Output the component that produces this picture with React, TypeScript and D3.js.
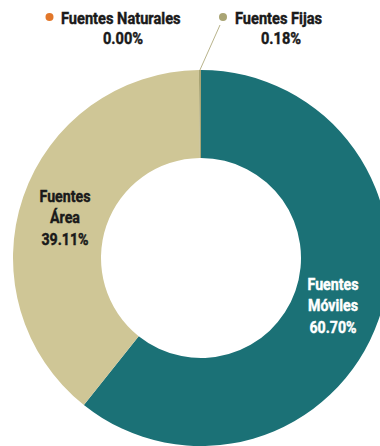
import React from "react";
import * as d3 from "d3";

// Emission share by source type (%)
const categories = ["Fuentes Móviles", "Fuentes Área", "Fuentes Fijas", "Fuentes Naturales"];
const shares = [60.70, 39.11, 0.18, 0.0];
const colors = ["#1b7176", "#cfc696", "#a9a474", "#e2772a"];
const labelLines = [["Fuentes", "Móviles", "60.70%"], ["Fuentes", "Área", "39.11%"]];
const labelColors = ["#ffffff", "#1a1a1a"];

const W = 380;
const H = 446;
const cx = 201;
const cy = 258;
const outerR = 188;
const innerR = 100;
const FONT = "Roboto, 'Noto Sans', sans-serif";
const SQUEEZE = 0.86; // condensed look for the heavy labels

export default function App() {
  const pie = d3.pie<number>().sort(null).value((d) => d)(shares);
  const arc = d3.arc<d3.PieArcDatum<number>>().innerRadius(innerR).outerRadius(outerR);

  // inner label anchors (centred positions inside the ring)
  const labelPos: [number, number][] = [
    [333, 290],
    [65, 202],
  ];

  // leader line from the thin "Fijas" slice up to its legend entry
  const fijas = pie[2];
  const midA = (fijas.startAngle + fijas.endAngle) / 2;
  const lx0 = cx + Math.sin(midA) * outerR;
  const ly0 = cy - Math.cos(midA) * outerR;

  const legend = [
    { i: 3, dotX: 49.5, textX: 61, valX: 123, value: "0.00%" },
    { i: 2, dotX: 223, textX: 235, valX: 281, value: "0.18%" },
  ];

  return (
    <svg width={W} height={H} style={{ position: "absolute", left: 0, top: 0 }}>
      <rect width={W} height={H} fill="#ffffff" />
      <g transform={`translate(${cx},${cy})`}>
        {pie.map((p, i) => (
          <path key={categories[i]} d={arc(p) || ""} fill={colors[i]} />
        ))}
      </g>
      <line x1={lx0} y1={ly0} x2={220} y2={25} stroke="#b9b48c" strokeWidth={1} />
      {legend.map((l) => (
        <g key={categories[l.i]}>
          <circle cx={l.dotX} cy={17} r={4} fill={colors[l.i]} />
          <g transform={`translate(${l.textX},24) scale(${SQUEEZE},1)`}>
            <text fontFamily={FONT} fontWeight="bold" fontSize={17} fill="#1a1a1a" stroke="#1a1a1a" strokeWidth={0.45}>
              {categories[l.i]}
            </text>
          </g>
          <g transform={`translate(${l.valX},44) scale(${SQUEEZE},1)`}>
            <text textAnchor="middle" fontFamily={FONT} fontWeight="bold" fontSize={17} fill="#1a1a1a" stroke="#1a1a1a" strokeWidth={0.45}>
              {l.value}
            </text>
          </g>
        </g>
      ))}
      {labelLines.map((lines, i) => (
        <g key={i} transform={`translate(${labelPos[i][0]},${labelPos[i][1]}) scale(${SQUEEZE},1)`}>
          <text
            textAnchor="middle"
            fontFamily={FONT}
            fontWeight="bold"
            fontSize={16.5}
            fill={labelColors[i]}
            stroke={labelColors[i]}
            strokeWidth={0.45}
          >
            {lines.map((t, j) => (
              <tspan key={j} x={0} dy={j === 0 ? 0 : 21.5}>
                {t}
              </tspan>
            ))}
          </text>
        </g>
      ))}
    </svg>
  );
}
